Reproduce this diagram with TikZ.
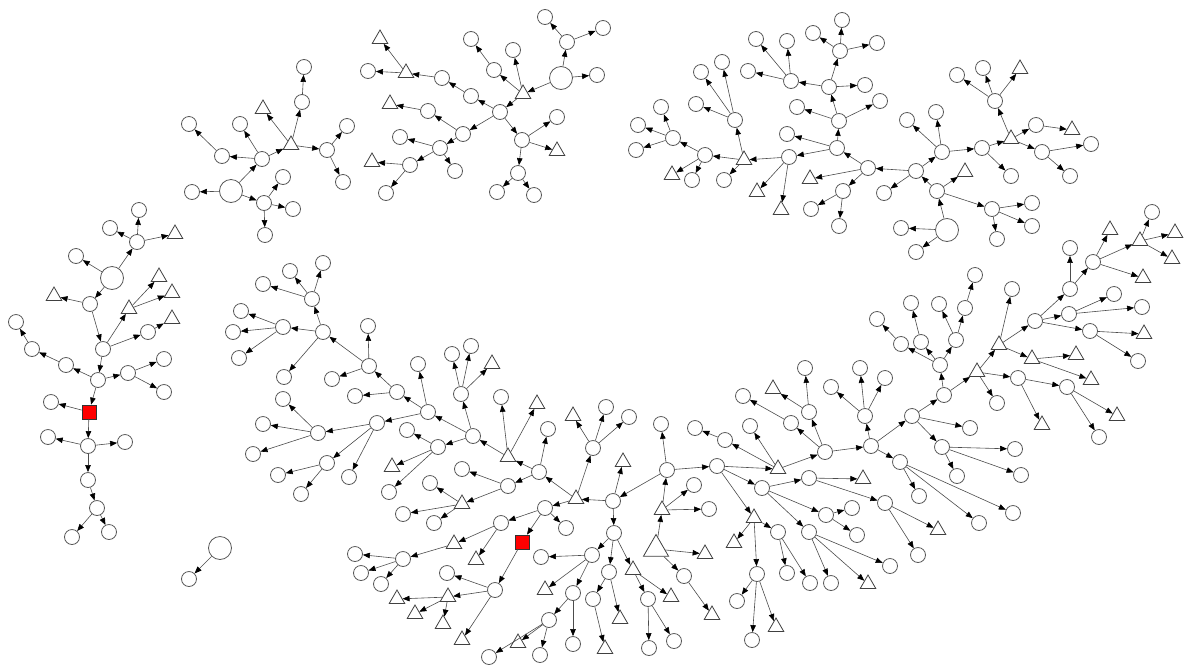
\documentclass[tikz,border=0pt]{standalone}
\usetikzlibrary{shapes.geometric,arrows.meta}
\begin{document}
\begin{tikzpicture}[x=1pt,y=-1pt,
  c/.style={circle,draw=black!65,line width=0.8pt,fill=white,inner sep=0pt,minimum size=15pt},
  bc/.style={circle,draw=black!65,line width=0.8pt,fill=white,inner sep=0pt,minimum size=23pt},
  t/.style={regular polygon,regular polygon sides=3,draw=black!75,line width=0.8pt,fill=white,inner sep=0pt,minimum size=18pt,yshift=-2pt},
  bt/.style={regular polygon,regular polygon sides=3,draw=black!75,line width=0.8pt,fill=white,inner sep=0pt,minimum size=29pt,yshift=-3pt},
  rs/.style={rectangle,draw=black!80,line width=0.8pt,fill=red,inner sep=0pt,minimum size=14pt},
  e/.style={draw=black!70,line width=0.6pt,-{Triangle[length=7pt,width=5.5pt,color=black]}}]
\fill[white] (0,0) rectangle (1184,665);
\useasboundingbox (0,0) rectangle (1184,665);
% ---- circles
\foreach \n/\x/\y in {A1/192/192, A2/262/159, A3/264/203, A4/222/156, A5/240/124, A7/189/124, A9/302/102, A10/304/67, A11/327/150, A12/347/126, A13/343/182, A14/283/177, A15/293/209, A16/265/235,
B1/567/42, B2/545/17, B3/603/28, B4/597/75, B6/494/70, B7/471/39, B8/513/50, B9/500/112, B10/471/96, B11/442/78, B14/368/71, B15/463/134, B16/428/111, B18/440/148, B19/400/137, B20/410/165, B22/386/193, B23/455/171, B24/522/140, B25/557/117, B27/518/173, B28/497/192, B29/534/195,
C1/901/228, C2/916/252, C3/937/191, C5/916/171, C6/992/209, C7/1032/203, C8/1032/226, C9/997/239, C10/884/193, C11/942/152, C12/868/168, C13/907/120, C14/936/112, C15/982/148, C17/1011/176, C18/995/101, C19/1036/125, C20/1042/152, C21/957/75, C22/983/68, C25/1091/144, C26/1070/176, C28/843/191, C29/837/148, C30/811/209, C31/839/226, C32/789/157, C33/787/134, C34/839/121, C35/797/107, C36/880/101, C37/829/87, C38/865/85, C39/840/51, C40/791/81, C41/813/33, C42/842/20, C43/877/43, C44/756/39, C45/787/41, C46/748/71, C50/705/155, C51/735/120, C52/724/180, C53/701/72, C54/722/62, C55/696/104, C56/673/138, C58/692/180, C59/661/107, C60/638/125, C61/636/150,
D1/137/242, D2/139/210, D3/110/228, D5/76/256, D6/90/304, D8/103/349, D12/148/332, D14/98/380, D15/66/365, D16/32/349, D17/16/322, D18/128/373, D19/164/359, D20/164/392, D22/51/402, D23/88/446, D24/48/437, D25/125/442, D26/88/480, D27/97/508, D28/72/537, D29/109/532,
F1/189/579,
E3/684/576, E5/667/470, E6/694/485, E7/709/509, E8/613/501, E9/717/466, E10/661/424, E12/614/533, E14/592/555, E15/609/572, E17/593/599, E20/648/599, E22/649/648, E23/674/641, E25/762/488, E27/725/440, E28/750/426, E29/695/428, E30/825/452, E31/871/446, E32/809/412, E33/791/423, E34/805/368, E36/743/396, E37/865/416, E38/831/387, E39/860/368, E40/885/378, E41/912/416, E42/900/462, E43/942/447, E44/1015/449, E45/957/476, E46/1021/475, E47/919/496, E48/979/523, E49/1013/513, E50/809/478, E52/885/503, E54/918/555, E55/826/515, E56/852/508, E57/857/535, E58/809/532, E59/890/566, E60/831/583, E63/778/532, E64/757/574, E65/787/573, E66/810/583, E67/737/601, E68/752/640, E70/944/395, E71/970/428, E72/940/365, E74/901/344, E75/921/342, E76/956/340, E77/877/319, E78/911/303, E79/939/304, E80/965/308, E81/975/275, E83/1018/378, E84/997/403, E85/1012/289, E86/1035/321, E90/1067/387, E93/1099/437, E94/1070/289, E95/1069/314, E96/1090/331, E97/1070/248, E98/1093/262, E102/1152/212, E105/1114/294, E106/1142/307, E108/1138/361, E110/593/448, E111/606/407, E112/629/417, E114/539/472, E115/545/508, E117/548/429, E118/508/486, E119/462/469, E121/430/483, E122/403/514, E123/434/523, E124/501/397, E126/473/436, E127/461/394, E128/452/354, E129/471/346, E131/428/412, E132/438/447, E133/407/430, E135/389/492, E136/418/364, E137/397/392, E138/377/423, E139/355/396, E140/369/366, E141/368/326, E142/332/379, E143/323/332, E144/312/299, E145/290/271, E146/323/263, E147/263/284, E148/283/327, E149/241/311, E150/233/332, E151/239/358, E152/284/377, E153/318/433, E154/283/399, E155/263/424, E156/253/454, E157/327/463, E158/278/475, E159/301/494, E160/349/477, E161/566/528, E163/501/523, E166/403/559, E167/355/554, E168/361/573, E169/381/584, E170/495/590, E171/447/573, E177/541/557, E179/573/593, E180/549/620, E181/573/644, E183/489/657, E184/540/655}
  \node[c] (\n) at (\x,\y) {};
% ---- big circles
\foreach \n/\x/\y in {A0/231/191, B0/561/78, C0/947/230, D0/112/278, F0/220/548}
  \node[bc] (\n) at (\x,\y) {};
% ---- triangles
\foreach \n/\x/\y in {A6/291/143, A8/263/107, B5/523/92, B12/406/71, B13/380/37, B17/390/102, B21/372/160, B26/557/149,
C4/965/170, C16/1011/137, C23/1020/67, C24/1072/128, C27/810/177, C47/744/158, C48/757/190, C49/781/208, C57/672/173,
D4/175/232, D7/54/294, D9/129/307, D10/159/275, D11/172/291, D13/172/317,
E1/662/508, E2/705/552, E4/712/613, E11/623/460, E13/576/497, E16/633/568, E18/620/617, E19/605/647, E21/671/595, E24/778/467, E26/754/516, E35/773/387, E51/863/477, E53/938/528, E61/868/582, E62/734/541, E69/776/625, E73/977/370, E82/999/343, E87/1032/357, E88/1076/353, E89/1091/378, E91/1042/423, E92/1117/414, E99/1110/228, E100/1140/239, E101/1143/276, E103/1175/231, E104/1172/257, E107/1144/332, E113/573/414, E116/508/455, E120/462/502, E125/537/402, E130/492/362, E134/392/465, E164/454/542, E165/476/558, E172/448/595, E173/462/638, E174/397/597, E175/415/612, E176/443/622, E178/545/588, E182/518/641}
  \node[t] (\n) at (\x,\y) {};
\node[bt] (E0) at (656,546) {};
\node[rs] (D21) at (89,412) {};
\node[rs] (E162) at (522,542) {};
% ---- edges
\foreach \u/\v in {A0/A1, A0/A2, A0/A3, A2/A4, A2/A5, A2/A6, A4/A7, A6/A8, A6/A9, A9/A10, A6/A11, A11/A12, A11/A13, A3/A14, A3/A15, A3/A16,
B0/B1, B1/B2, B1/B3, B0/B4, B0/B5, B5/B6, B6/B7, B5/B8, B5/B9, B9/B10, B10/B11, B11/B12, B12/B13, B12/B14, B9/B15, B15/B16, B16/B17, B15/B18, B18/B19, B18/B20, B20/B21, B20/B22, B18/B23, B9/B24, B24/B25, B24/B26, B24/B27, B27/B28, B27/B29,
C0/C1, C0/C2, C0/C3, C3/C4, C3/C5, C3/C6, C6/C7, C6/C8, C6/C9, C5/C10, C5/C11, C5/C12, C11/C13, C11/C14, C11/C15, C15/C16, C15/C17, C16/C18, C16/C19, C16/C20, C18/C21, C18/C22, C18/C23, C19/C24, C20/C25, C20/C26, C12/C27, C12/C28, C12/C29, C28/C30, C28/C31, C29/C32, C29/C33, C29/C34, C34/C35, C34/C36, C34/C37, C37/C38, C37/C39, C37/C40, C39/C41, C39/C42, C39/C43, C40/C44, C40/C45, C40/C46, C32/C47, C32/C48, C32/C49, C47/C50, C47/C51, C47/C52, C51/C53, C51/C54, C51/C55, C50/C56, C50/C57, C50/C58, C56/C59, C56/C60, C56/C61,
D1/D2, D0/D1, D1/D3, D1/D4, D0/D5, D0/D6, D6/D7, D6/D8, D8/D9, D9/D10, D9/D11, D8/D12, D12/D13, D8/D14, D14/D15, D15/D16, D16/D17, D14/D18, D18/D19, D18/D20, D14/D21, D21/D22, D21/D23, D23/D24, D23/D25, D23/D26, D26/D27, D27/D28, D27/D29,
F0/F1}
  \draw[e] (\u) -- (\v);
\foreach \u/\v in {E0/E1, E0/E2, E0/E3, E3/E4, E1/E5, E1/E6, E1/E7, E5/E8, E5/E9, E5/E10, E8/E11, E8/E12, E8/E13, E12/E14, E12/E15, E12/E16, E15/E17, E15/E18, E17/E19, E16/E20, E16/E21, E20/E22, E20/E23,
E9/E24, E9/E25, E9/E26, E24/E27, E24/E28, E24/E30, E27/E29, E30/E31, E30/E32, E30/E33, E32/E34, E32/E35, E33/E36, E31/E37, E37/E38, E37/E39, E37/E40, E31/E41, E31/E42, E41/E43, E43/E44, E43/E45, E43/E46, E42/E47, E42/E48, E42/E49,
E25/E50, E50/E51, E50/E52, E52/E53, E52/E54, E25/E55, E55/E56, E55/E57, E25/E58, E58/E59, E58/E60, E58/E61, E26/E62, E26/E63, E26/E64, E63/E65, E63/E66, E64/E67, E64/E68, E64/E69,
E41/E70, E41/E71, E70/E72, E70/E73, E72/E74, E72/E75, E72/E76, E74/E77, E75/E78, E76/E79, E76/E80, E80/E81, E73/E82, E73/E83, E73/E84, E82/E85, E82/E86, E82/E87, E87/E88, E87/E89, E83/E90, E83/E91, E90/E92, E90/E93, E86/E94, E86/E95, E86/E96, E94/E97, E94/E98, E98/E99, E98/E100, E98/E101, E100/E102, E100/E103, E100/E104, E95/E105, E95/E106, E96/E107, E96/E108,
E13/E110, E110/E111, E110/E112, E110/E113, E13/E114, E13/E115, E114/E116, E114/E117, E114/E118, E118/E119, E118/E120, E120/E121, E120/E122, E120/E123, E116/E124, E116/E125, E116/E126, E126/E127, E127/E128, E127/E129, E127/E130, E126/E131, E126/E132, E132/E133, E132/E134, E132/E135, E131/E136, E131/E137, E131/E138, E137/E139, E137/E140, E140/E141, E140/E142, E140/E143, E143/E144, E144/E145, E144/E146, E144/E147, E143/E148, E148/E149, E148/E150, E148/E151, E143/E152, E138/E153, E153/E154, E153/E155, E153/E156, E138/E157, E157/E158, E157/E159, E138/E160,
E115/E161, E115/E162, E115/E163, E162/E170, E163/E164, E163/E165, E164/E166, E166/E167, E166/E168, E166/E169, E170/E171, E170/E172, E170/E173, E172/E174, E172/E175, E172/E176, E14/E177, E14/E178, E14/E179, E179/E180, E179/E181, E180/E182, E180/E183, E180/E184}
  \draw[e] (\u) -- (\v);
\end{tikzpicture}
\end{document}
